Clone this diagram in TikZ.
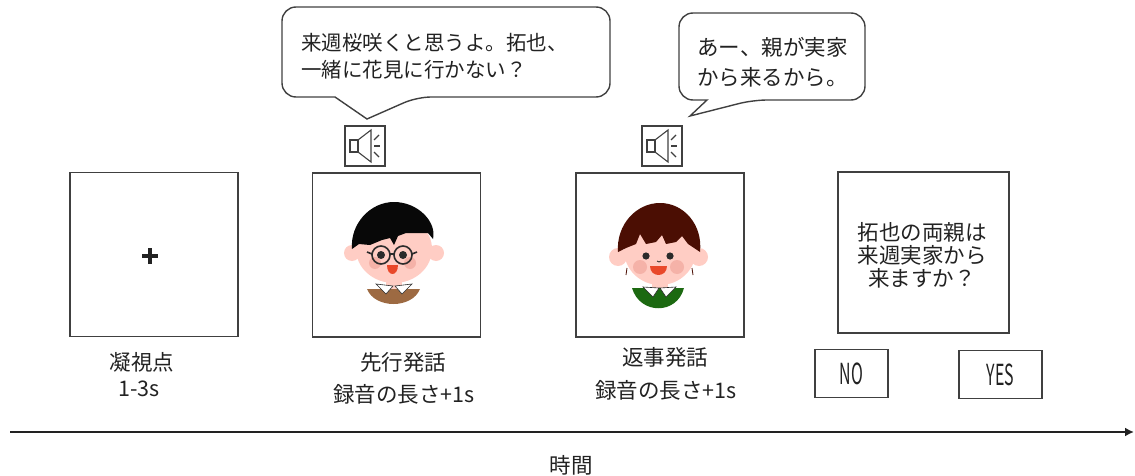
\documentclass[tikz,border=0pt]{standalone}
\usepackage{fontspec}
\setmainfont{Noto Sans CJK JP}
\usetikzlibrary{arrows.meta,positioning}
\definecolor{Frame}{HTML}{404040}
\definecolor{Ink}{HTML}{222222}
\definecolor{Skin}{RGB}{255,205,196}
\definecolor{Cheek}{RGB}{245,178,168}
\definecolor{Mouth}{RGB}{233,72,42}
\definecolor{Pupil}{HTML}{2B2B2B}
\definecolor{HairBlack}{HTML}{080808}
\definecolor{HairBrown}{HTML}{4B0E03}
\definecolor{ShirtBrown}{HTML}{9D6A42}
\definecolor{ShirtGreen}{HTML}{1C6911}

\tikzset{
    panel/.style={draw=Frame, line width=1.5pt, minimum width=168pt, minimum height=164pt, inner sep=0pt},
    speech/.style={draw=Frame, line width=1.4pt},
    speakerbox/.style={draw=Frame, line width=1.2pt, minimum size=40pt, inner sep=0pt},
    answer/.style={draw=Frame, line width=1.2pt, minimum height=48pt, inner sep=0pt, text=Ink, font=\fontsize{29}{29}\selectfont},
    stagetext/.style={text=Ink, align=center, inner sep=0pt, font=\fontsize{21.5}{31}\selectfont},
    bubbletext/.style={text=Ink, align=left, inner sep=0pt, anchor=west},
}

\NewDocumentCommand{\SpeakerIcon}{O{(0,0)}}{
    \begin{scope}[shift={#1}, draw=Frame, line width=1.1pt]
    \draw (-15,-6) rectangle (-7,6);
    \draw (-7,6) -- (6,16) -- (6,-16) -- (-7,-6);
    \draw (9,6) -- (14,11);
    \draw (9,0) -- (15,0);
    \draw (9,-6) -- (14,-11);
    \end{scope}
}
\NewDocumentCommand{\KidGlasses}{O{(0,0)}}{
    \begin{scope}[shift={#1}]
    % shirt, neck and collar
    \fill[Skin] (-8,-28) rectangle (8,-42);
    \fill[ShirtBrown] (-27,-40) -- (26,-40) .. controls (18,-60) and (-19,-60) .. cycle;
    \filldraw[fill=white, draw=Pupil, line width=0.6pt] (-18,-35) -- (-1,-37) -- (-8,-45) -- cycle;
    \filldraw[fill=white, draw=Pupil, line width=0.6pt] (18,-35) -- (1,-37) -- (8,-45) -- cycle;
    % head
    \fill[Skin] (-42,-4) circle (8) (42,-4) circle (8);
    \fill[Skin] (0,0) ellipse [x radius=38, y radius=34];
    \fill[HairBlack] (-42,0) .. controls (-44,25) and (-24,47) .. (0,47)
        .. controls (24,47) and (43,27) .. (39,10) -- (34,16) -- (12,16)
        -- (4,13) -- (0,4) -- (-4,11) -- (-12,9) -- (-24,4) -- (-35,5) -- cycle;
    \fill[Cheek] (-19,-14) circle (6) (16,-14) circle (6);
    % glasses
    \fill[Pupil] (-13,-6) circle (4) (9,-6) circle (4);
    \draw[Pupil, line width=1.6pt] (-13,-6) circle (9) (9,-6) circle (9) (-4,-5) -- (0,-5)
        (-22,-5) -- (-27,-3) (18,-5) -- (23,-3);
    \fill[Mouth] (-7,-16) -- (4,-16) .. controls (4,-28) and (-7,-28) .. cycle;
    \end{scope}
}
\NewDocumentCommand{\KidSmile}{O{(0,0)}}{
    \begin{scope}[shift={#1}]
    % shirt, neck and collar
    \fill[Skin] (-8,-28) rectangle (8,-40);
    \fill[ShirtGreen] (-28,-38) -- (24,-38) .. controls (17,-65) and (-20,-65) .. cycle;
    \filldraw[fill=white, draw=Pupil, line width=0.6pt] (-17,-37) -- (-1,-38) -- (-7,-47) -- cycle;
    \filldraw[fill=white, draw=Pupil, line width=0.6pt] (16,-37) -- (0,-38) -- (6,-47) -- cycle;
    % head
    \fill[Skin] (-42,-7) circle (9) (39,-7) circle (9);
    \fill[Skin] (0,0) ellipse [x radius=36, y radius=35];
    \fill[HairBrown] (-42,-2) .. controls (-44,25) and (-24,47) .. (0,47)
        .. controls (24,47) and (43,25) .. (40,-2) -- (28,6) -- (22,14) -- (16,8)
        -- (6,6) -- (2,15) -- (-4,8) -- (-14,6) -- (-20,16) -- (-24,6) -- (-34,2) -- cycle;
    \draw[HairBrown, line width=0.8pt] (-33,-18) -- (-34,-25) (32,-18) -- (33,-25);
    \fill[Cheek] (-20,-17) circle (7) (17,-17) circle (7);
    \fill[Pupil] (-14,-6) circle (3.6) (10,-6) circle (3.6);
    \draw[Pupil, line width=0.7pt] (-3,-11) -- (-1,-12) -- (1,-11);
    \fill[Mouth] (-10,-16) -- (7,-16) .. controls (7,-28) and (-10,-28) .. cycle;
    \end{scope}
}

\begin{document}
\begin{tikzpicture}[x=1pt, y=1pt]
\useasboundingbox (0,0) rectangle (1135,-476);

% screens
\node[panel] (fix) at (154,-254.5) {};
\node[panel] (lead) at (396.5,-255) {};
\node[panel] (reply) at (660,-255) {};
\node[panel, minimum width=171pt, minimum height=161pt] (quest) at (923.5,-252.5) {};

\coordinate (cross) at (150,-256);
\draw[Ink, line width=3.4pt] ([xshift=-8pt]cross) -- ([xshift=8pt]cross)
    ([yshift=-8pt]cross) -- ([yshift=8pt]cross);
\KidGlasses[(394,-249)]
\KidSmile[(660,-250)]
\node[stagetext, font=\fontsize{21.5}{23}\selectfont] (qtext) at (922,-255) {拓也の両親は\\来週実家から\\来ますか？};

% speech bubbles and speakers
\draw[speech] (446,-7) [rounded corners=14pt] -- (610,-7) -- (610,-97) -- (417,-97)
    [sharp corners] -- (367,-119) -- (335,-97) [rounded corners=14pt] -- (282,-97) -- (282,-7) -- cycle;
\node[bubbletext, font=\fontsize{20.5}{27}\selectfont] (msgA) at (301,-56.5) {来週桜咲くと思うよ。拓也、\\一緒に花見に行かない？};
\draw[speech] (772,-13) [rounded corners=14pt] -- (865,-13) -- (865,-100) -- (753,-100)
    [sharp corners] -- (690,-116) -- (707,-100) [rounded corners=14pt] -- (679,-100) -- (679,-13) -- cycle;
\node[bubbletext, font=\fontsize{21.5}{30}\selectfont] (msgB) at (697,-62) {あー、親が実家\\から来るから。};

\node[speakerbox] (spkA) at (365,-146) {};
\SpeakerIcon[(spkA.center)]
\node[speakerbox] (spkB) at (662,-146) {};
\SpeakerIcon[(spkB.center)]

% captions
\node[stagetext] (fixname) at (142,-362) {凝視点};
\node[stagetext] (fixtime) at (139,-389) {1-3s};
\node[stagetext] (leadname) at (403,-362) {先行発話};
\node[stagetext] (leadtime) at (404,-394) {録音の長さ+1s};
\node[stagetext] (replyname) at (665,-357) {返事発話};
\node[stagetext] (replytime) at (666,-390) {録音の長さ+1s};

\node[answer, minimum width=73pt] (no) at (851.5,-373.5) {\scalebox{0.55}[1]{NO}};
\node[answer, minimum width=83pt] (yes) at (1000.5,-374.5) {\scalebox{0.55}[1]{YES}};

% time axis
\coordinate (tstart) at (10,-432);
\coordinate (tend) at (1134,-432);
\draw[Ink, line width=2.6pt, -{Latex[length=9pt, width=9pt]}] (tstart) -- (tend);
\node[stagetext] (tlabel) at (571,-465) {時間};
\end{tikzpicture}
\end{document}
